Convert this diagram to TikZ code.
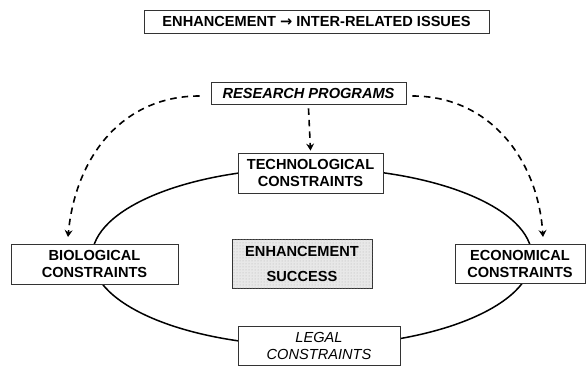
\documentclass[tikz,border=0pt]{standalone}
\usepackage{fontspec}
\setmainfont{Liberation Sans}
\newfontfamily\arrowfont{DejaVu Sans}
\usetikzlibrary{arrows.meta,patterns}
\begin{document}
\begin{tikzpicture}[x=1pt,y=-1pt,
    box/.style={draw=black!80,line width=0.9pt,fill=white,align=center,inner sep=0pt,
      font=\fontsize{14.6}{17}\selectfont\bfseries},
    dasharrow/.style={dash pattern=on 6.5pt off 5pt,line width=1.6pt,
      -{Stealth[length=7pt,width=8pt,inset=2.5pt]}}]
  \useasboundingbox (0,0) rectangle (586,366);
  \draw[line width=1.5pt] (312,257) ellipse [x radius=220,y radius=89];
  \draw
    (316.5,21.5) node[box,minimum width=345pt,minimum height=23pt] (title){ENHANCEMENT {\arrowfont\bfseries →} INTER-RELATED ISSUES}
    (308.5,93) node[box,minimum width=195pt,minimum height=22pt,font=\fontsize{14.6}{17}\selectfont\bfseries\itshape] (research){RESEARCH PROGRAMS}
    (310.5,173) node[box,minimum width=145pt,minimum height=40pt] (tech){TECHNOLOGICAL\\CONSTRAINTS}
    (94.5,264) node[box,minimum width=167pt,minimum height=40pt] (bio){BIOLOGICAL\\CONSTRAINTS}
    (520,263.5) node[box,minimum width=130pt,minimum height=39pt] (econ){ECONOMICAL\\CONSTRAINTS}
    (302,263.5) node[box,fill=black!9,postaction={pattern=dots,pattern color=black!30},
      minimum width=140pt,minimum height=49pt,font=\fontsize{14.6}{25}\selectfont\bfseries] (success){ENHANCEMENT\\SUCCESS}
    (319,345.5) node[box,minimum width=162pt,minimum height=39pt,font=\fontsize{14.6}{17}\selectfont\itshape] (legal){LEGAL\\CONSTRAINTS};
  \coordinate (bioin) at (68,237);
  \coordinate (econin) at (543,237);
  \begin{scope}[dasharrow]
    \draw ([xshift=-11pt,yshift=-3pt]research.west) .. controls (120,96) and (75,160) .. (bioin);
    \draw ([xshift=6pt,yshift=-3pt]research.east) .. controls (490,96) and (538,160) .. (econin);
    \draw ([yshift=-4pt]research.south) -- ([yshift=2pt]tech.north);
  \end{scope}
\end{tikzpicture}
\end{document}
